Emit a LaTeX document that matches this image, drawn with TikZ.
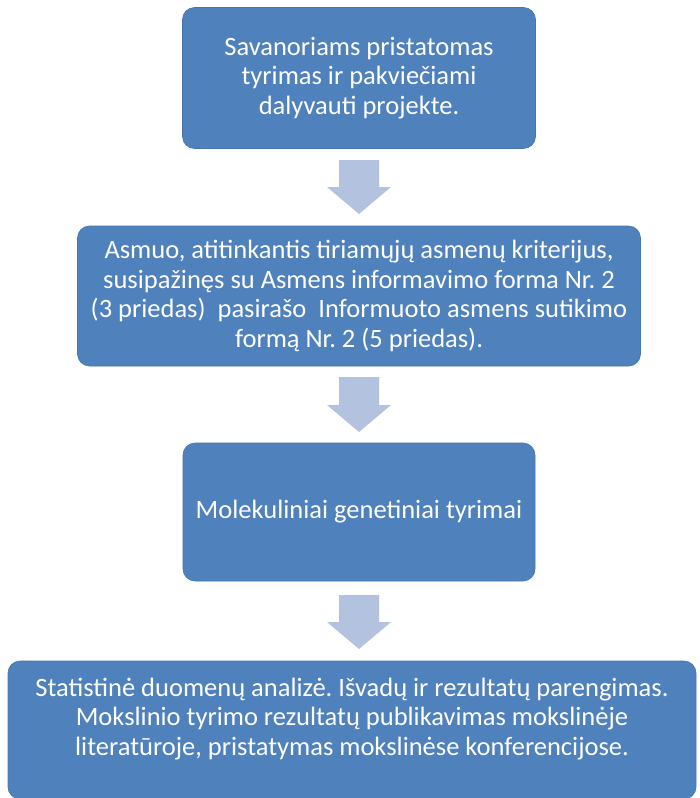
\documentclass[tikz,border=0pt]{standalone}
\usepackage{fontspec}
\setmainfont{Carlito}
\frenchspacing
\definecolor{boxblue}{HTML}{4F81BD}
\definecolor{arrowblue}{HTML}{B3C3DF}
\begin{document}
\begin{tikzpicture}[x=1pt,y=-1pt,
  boxtext/.style={text=white, align=center, inner sep=0pt, font=\fontsize{26.5}{29.5}\selectfont},
  stepbox/.style={boxtext, draw=boxblue!90!black, line width=0.6pt, fill=boxblue, rounded corners=12pt},
  blockarrow/.style={fill=arrowblue, draw=none}]
\useasboundingbox (0,0) rectangle (700,798);
\node[stepbox, minimum width=353pt, minimum height=141pt] (b1) at (359,78)
  {Savanoriams pristatomas\\tyrimas ir pakvie\v{c}iami\\dalyvauti projekte.};
\node[stepbox, minimum width=563pt, minimum height=140pt] (b2) at (359,296)
  {Asmuo, atitinkantis tiriam\k{u}j\k{u} asmen\k{u} kriterijus,\\susipa\v{z}in\k{e}s su Asmens informavimo forma Nr. 2\\(3 priedas)\ \ pasira\v{s}o\ \ Informuoto asmens sutikimo\\form\k{a} Nr. 2 (5 priedas).};
\node[stepbox, minimum width=352pt, minimum height=138pt] (b3) at (359,512)
  {Molekuliniai genetiniai tyrimai};
\node[stepbox, minimum width=688pt, minimum height=138pt] (b4) at (352,730) {};
\node[boxtext] (b4t) at (352,719)
  {Statistin\.{e} duomen\k{u} analiz\.{e}. I\v{s}vad\k{u} ir rezultat\k{u} parengimas.\\Mokslinio tyrimo rezultat\k{u} publikavimas mokslin\.{e}je\\literat\={u}roje, pristatymas mokslin\.{e}se konferencijose.};
% block arrows
\foreach \t/\hb/\tip in {160/187/214, 377/405/432, 595/622/649}{
  \fill[blockarrow] (339,\t) -- (379,\t) -- (379,\hb) -- (391,\hb) -- (359,\tip) -- (327,\hb) -- (339,\hb) -- cycle;
}
\end{tikzpicture}
\end{document}
